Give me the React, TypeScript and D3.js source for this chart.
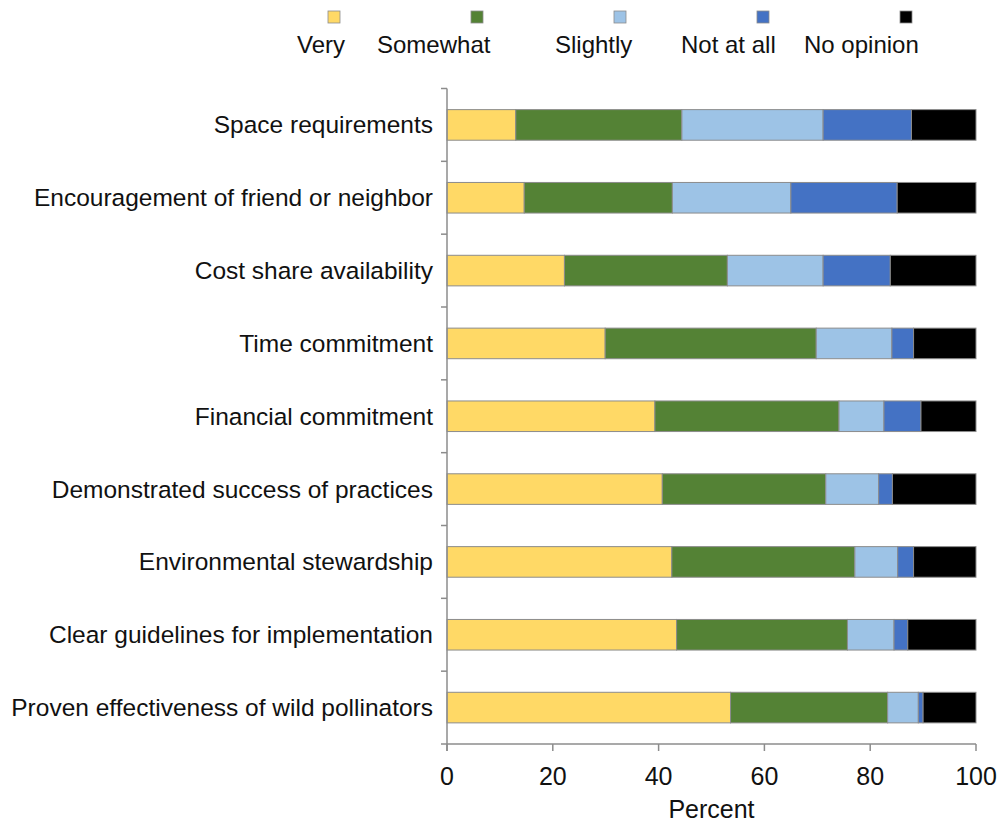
import React from 'react';
import * as d3 from 'd3';

const categories = [
  'Space requirements',
  'Encouragement of friend or neighbor',
  'Cost share availability',
  'Time commitment',
  'Financial commitment',
  'Demonstrated success of practices',
  'Environmental stewardship',
  'Clear guidelines for implementation',
  'Proven effectiveness of wild pollinators',
];

const responses = ['Very', 'Somewhat', 'Slightly', 'Not at all', 'No opinion'];
const colors = ['#FFD966', '#548235', '#9DC3E6', '#4472C4', '#000000'];

// percent of respondents per category, in response order
const very = [13.0, 14.6, 22.2, 29.9, 39.3, 40.7, 42.5, 43.4, 53.6];
const somewhat = [31.4, 28.0, 30.8, 39.9, 34.8, 30.9, 34.6, 32.3, 29.7];
const slightly = [26.7, 22.4, 18.1, 14.3, 8.5, 10.0, 8.1, 8.8, 5.8];
const notAtAll = [16.7, 20.1, 12.7, 4.1, 7.0, 2.6, 3.0, 2.6, 0.9];
const noOpinion = [12.2, 14.9, 16.2, 11.8, 10.4, 15.8, 11.8, 12.9, 10.0];

const xTicks = [0, 20, 40, 60, 80, 100];

// legend label left edges (Excel-style uneven spacing)
const legendLabelX = [297, 377, 555, 681, 804];

const W = 997;
const H = 826;
const FONT = '"Liberation Sans", Arial, sans-serif';

export default function App() {
  const series = [very, somewhat, slightly, notAtAll, noOpinion];
  const rows = categories.map((c, i) => {
    const r: any = { category: c };
    responses.forEach((k, j) => (r[k] = series[j][i]));
    return r;
  });
  const stacked = d3.stack().keys(responses)(rows);

  const top = 88.5;
  const bottom = 744;
  const x = d3.scaleLinear().domain([0, 100]).range([447, 976]);
  const y = d3
    .scaleBand()
    .domain(categories)
    .range([top, bottom])
    .paddingInner(0.58)
    .paddingOuter(0.29);
  const axisColor = '#8c8c8c';
  const step = (bottom - top) / categories.length;
  const boundaries = d3.range(categories.length + 1).map((i) => top + i * step);

  const swatch = d3.scalePoint().domain(responses).range([334, 906]);

  return (
    <svg
      width={W}
      height={H}
      style={{ position: 'absolute', left: 0, top: 0, background: '#fff' }}
      fontFamily={FONT}
    >
      {/* legend */}
      {responses.map((k, i) => (
        <g key={k}>
          <rect
            x={swatch(k)! - 6}
            y={11}
            width={12}
            height={12}
            fill={colors[i]}
            stroke="#8c8c8c"
            strokeWidth={0.8}
          />
          <text x={legendLabelX[i]} y={53} fontSize={24} fill="#111">
            {k}
          </text>
        </g>
      ))}

      {/* bars */}
      {stacked.map((s, i) => (
        <g key={s.key} fill={colors[i]}>
          {s.map((d, j) => (
            <rect
              key={j}
              x={x(d[0])}
              y={y(categories[j])}
              width={x(d[1]) - x(d[0])}
              height={y.bandwidth()}
              stroke="#8c8c8c"
              strokeWidth={1}
            />
          ))}
        </g>
      ))}

      {/* y axis */}
      <line x1={x(0)} x2={x(0)} y1={top} y2={bottom + 7} stroke={axisColor} strokeWidth={1.5} />
      {boundaries.slice(0, -1).map((b, i) => (
        <line key={i} x1={x(0) - 6} x2={x(0)} y1={b} y2={b} stroke={axisColor} strokeWidth={1.5} />
      ))}
      {categories.map((c) => (
        <text
          key={c}
          x={433}
          y={y(c)! + y.bandwidth() / 2}
          dy="0.35em"
          textAnchor="end"
          fontSize={24.5}
          fill="#111"
        >
          {c}
        </text>
      ))}

      {/* x axis */}
      <line x1={x(0) - 6} x2={x(100)} y1={bottom} y2={bottom} stroke={axisColor} strokeWidth={1.5} />
      {xTicks.map((t) => (
        <g key={t}>
          <line x1={x(t)} x2={x(t)} y1={bottom} y2={bottom + 7} stroke={axisColor} strokeWidth={1.5} />
          <text x={x(t)} y={785} textAnchor="middle" fontSize={25} fill="#111">
            {t}
          </text>
        </g>
      ))}
      <text x={x(50)} y={818} textAnchor="middle" fontSize={25} fill="#111">
        Percent
      </text>
    </svg>
  );
}
